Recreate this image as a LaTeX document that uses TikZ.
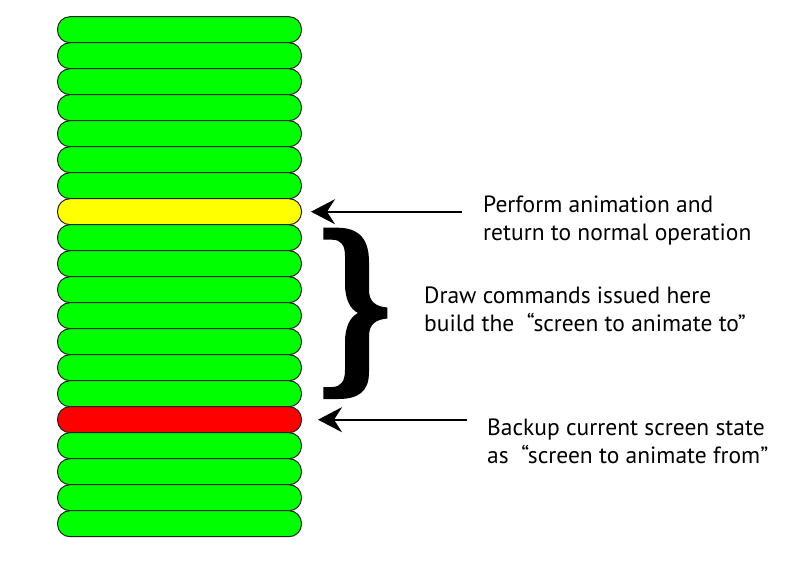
\documentclass[tikz,border=0pt]{standalone}
\usepackage{fontspec}
\setmainfont{PT Sans}
\usepackage{tikz}
\usetikzlibrary{arrows.meta,positioning}
\definecolor{barG}{HTML}{00FF00}
\definecolor{barY}{HTML}{FFFF00}
\definecolor{barR}{HTML}{FF0000}
\definecolor{barline}{HTML}{222222}

\begin{document}
\begin{tikzpicture}[x=1pt, y=-1pt,
  bar/.style={draw=barline, line width=1pt, rounded corners=12.5pt,
    minimum width=244pt, minimum height=26pt, inner sep=0pt},
  note/.style={align=left, anchor=west, inner sep=0pt,
    font=\fontsize{23.5pt}{28pt}\selectfont},
  pointer/.style={-{Stealth[length=24pt, width=25pt, inset=8pt]},
    line width=2.2pt}]
\useasboundingbox (0,0) rectangle (789,566);
% the stack of draw calls
\foreach \i in {0,...,19}{
  \def\col{barG}
  \ifnum\i=7 \def\col{barY}\fi
  \ifnum\i=15 \def\col{barR}\fi
  \node[bar, fill=\col] (b\i) at (179.5,{29.7+26*\i}) {};
}
% notes
\node[note] (perform) at (483,221) {Perform animation and\\return to normal operation};
\node[note] (build) at (424,309) {Draw commands issued here\\build the ~``screen to animate to''};
\node[note] (backup) at (487,441) {Backup current screen state\\as ~``screen to animate from''};
% brace over the recorded calls
\fill (323.3,227.7) -- (338,227.7) .. controls (360,228) and (369,240) .. (369,262)
  -- (369,290) .. controls (369,302) and (376,306.5) .. (387.3,307.5)
  -- (387.3,318.5) .. controls (376,319.5) and (369,324) .. (369,336)
  -- (369,372) .. controls (369,392) and (358,399) .. (338,399)
  -- (323.3,399) -- (323.3,387) -- (332,387)
  .. controls (341,387) and (345,381) .. (345,370)
  -- (345,342) .. controls (345,327) and (350,317) .. (358,313)
  .. controls (350,309) and (345,299) .. (345,284)
  -- (345,256) .. controls (345,245) and (341,239.7) .. (332,239.7)
  -- (323.3,239.7) -- cycle;
% arrows
\draw[pointer, shorten <=21pt, shorten >=9pt] (perform.west |- b7) -- (b7.east);
\draw[pointer, shorten <=20pt, shorten >=16pt] (backup.west |- b15) -- (b15.east);
\end{tikzpicture}
\end{document}
